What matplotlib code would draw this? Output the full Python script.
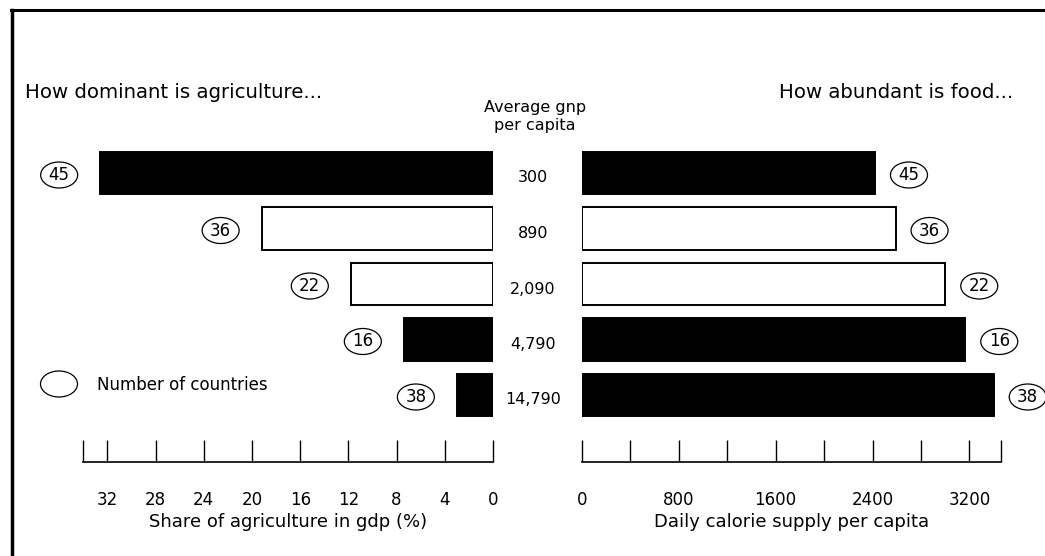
import matplotlib
matplotlib.use('Agg')
import matplotlib.pyplot as plt
from matplotlib.patches import Ellipse
from matplotlib.lines import Line2D
from matplotlib.transforms import ScaledTranslation, Affine2D

# ---------------- data ----------------
gnp_labels = ['300', '890', '2,090', '4,790', '14,790']
n_countries = [45, 36, 22, 16, 38]
agri_share = [32.6, 19.2, 11.8, 7.4, 3.0]
calorie_supply = [2420, 2590, 3000, 3165, 3400]
bar_filled = [True, False, False, True, True]
agri_ticks = [34, 32, 28, 24, 20, 16, 12, 8, 4, 0]
agri_ticklabels = ['', '32', '28', '24', '20', '16', '12', '8', '4', '0']
cal_ticks = [0, 400, 800, 1200, 1600, 2000, 2400, 2800, 3200, 3460]
cal_ticklabels = ['0', '', '800', '', '1600', '', '2400', '', '3200', '']

# ---------------- layout ----------------
plt.rcParams['font.family'] = ['DejaVu Sans']
W, H = 1045, 556
fig = plt.figure(figsize=(W / 100, H / 100), dpi=100)


def fx(px):
    return px / W


def fy(py):
    return 1 - py / H


top_px, bot_px = 130, 462
axL = fig.add_axes([fx(83.3), fy(bot_px), fx(493) - fx(83.3), (bot_px - top_px) / H])
axR = fig.add_axes([fx(581.7), fy(bot_px), fx(1001) - fx(581.7), (bot_px - top_px) / H])

ypos = list(range(len(gnp_labels)))
colors = ['black' if f else 'white' for f in bar_filled]

for ax, vals, ticks, tlabels, xlim, xlabel in [
    (axL, agri_share, agri_ticks, agri_ticklabels, (34, 0), 'Share of agriculture in gdp (%)'),
    (axR, calorie_supply, cal_ticks, cal_ticklabels, (0, 3460), 'Daily calorie supply per capita'),
]:
    ax.barh(ypos, vals, height=0.77, color=colors, edgecolor='black', linewidth=1.4, zorder=2)
    ax.set_xlim(*xlim)
    ax.set_ylim((462 - 173) / 55.5, (130 - 173) / 55.5)
    ax.set_xticks(ticks)
    ax.set_xticklabels(tlabels)
    ax.tick_params(axis='x', direction='in', length=15.8, width=1.0, pad=21, labelsize=12)
    ax.tick_params(axis='y', left=False, labelleft=False)
    for s in ['top', 'left', 'right']:
        ax.spines[s].set_visible(False)
    ax.spines['bottom'].set_linewidth(1.2)
    ax.set_xlabel(xlabel, fontsize=13, labelpad=2.5)
    ax.patch.set_alpha(0)


def add_count(ax, x, y, dx, dy, text):
    tr = fig.dpi_scale_trans + ScaledTranslation(x, y, ax.transData) + Affine2D().translate(dx, dy)
    e = Ellipse((0, 0), 0.37, 0.26, transform=tr, fc='white', ec='black', lw=0.9,
                clip_on=False, zorder=4)
    ax.add_artist(e)
    ax.annotate(text, xy=(x, y), xytext=(dx, dy), textcoords='offset pixels',
                ha='center', va='center', fontsize=12, annotation_clip=False, zorder=5)


for i in ypos:
    add_count(axL, agri_share[i], i, -41, -2, str(n_countries[i]))
    add_count(axR, calorie_supply[i], i, 34, -2, str(n_countries[i]))
    axL.annotate(gnp_labels[i], xy=(0, i), xytext=(40, -5), textcoords='offset pixels',
                 ha='center', va='center', fontsize=11.5, annotation_clip=False)

# ---------------- texts ----------------
fig.text(fx(25), fy(98), 'How dominant is agriculture...', va='baseline', fontsize=14.2)
fig.text(fx(1013), fy(98), 'How abundant is food...', ha='right', va='baseline', fontsize=14.2)
fig.text(fx(535), fy(112), 'Average gnp', ha='center', va='baseline', fontsize=11.5)
fig.text(fx(535), fy(130), 'per capita', ha='center', va='baseline', fontsize=11.5)

# legend
leg_tr = fig.dpi_scale_trans + Affine2D().translate(59, H - 384)
fig.add_artist(Ellipse((0, 0), 0.37, 0.26, transform=leg_tr, fc='white', ec='black', lw=0.9))
fig.text(fx(97), fy(385), 'Number of countries', va='center', fontsize=12)

# frame (top and left)
fig.add_artist(Line2D([fx(11), 1], [fy(10), fy(10)], transform=fig.transFigure,
                      color='black', lw=2.2))
fig.add_artist(Line2D([fx(12), fx(12)], [fy(10), 0], transform=fig.transFigure,
                      color='black', lw=2.5))

fig.savefig('out.png', dpi=100)
